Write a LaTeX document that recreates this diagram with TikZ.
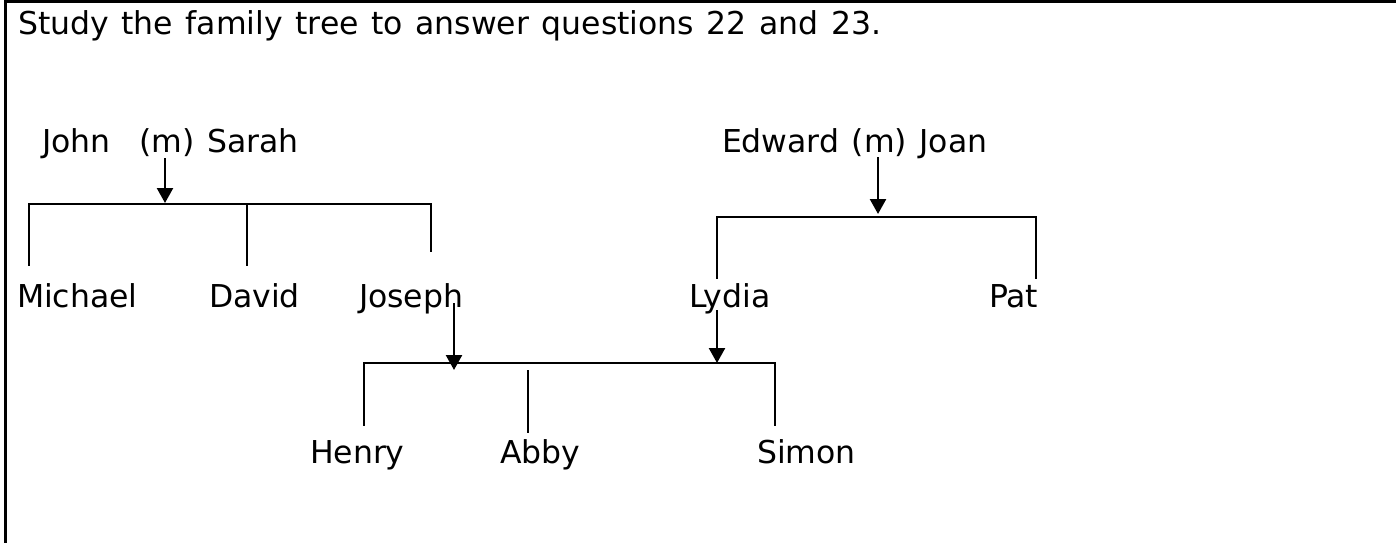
\documentclass[tikz,border=0pt]{standalone}
\usepackage{fontspec}
\setmainfont{DejaVu Sans}[WordSpace=1.25]
\usetikzlibrary{arrows.meta}
\tikzset{
  lbl/.style={anchor=base west, inner sep=0pt, outer sep=0pt, font=\fontsize{31.5}{38}\selectfont},
  bar/.style={line width=2pt, line cap=rect},
  arr/.style={line width=2.4pt, -{Triangle[length=15pt,width=16pt]}},
  frame/.style={line width=2.7pt}
}
\begin{document}
\begin{tikzpicture}[x=1pt,y=-1pt]
\useasboundingbox (0,0) rectangle (1396,543);
\fill[white] (0,0) rectangle (1396,543);
% frame
\coordinate (ftl) at (5.3,1.3);
\coordinate (ftr) at (1396,1.3);
\coordinate (fbl) at (5.3,543);
\draw[frame] (ftr) -- (ftl) -- (fbl);
% texts
\node[lbl] (title) at (18,35) {Study the family tree to answer questions 22 and 23.};
\node[lbl] (js) at (42,152) {John\ \ \kern4pt(m) Sarah};
\node[lbl] (ej) at (722,152) {Edward (m) Joan};
\node[lbl] (michael) at (17,307) {Michael};
\node[lbl] (david) at (209,307) {David};
\node[lbl] (joseph) at (359,307) {Joseph};
\node[lbl] (lydia) at (689,307) {Lydia};
\node[lbl] (pat) at (989,307) {Pat};
\node[lbl] (henry) at (310,463) {Henry};
\node[lbl] (abby) at (500,463) {Abby};
\node[lbl] (simon) at (757,463) {Simon};
% family 1
\coordinate (b1l) at (29,204);
\coordinate (b1r) at (431,204);
\coordinate (b1m) at (247,204);
\coordinate (a1s) at (165,158);
\coordinate (a1e) at (165,203);
\coordinate (d1l) at (29,265);
\coordinate (d1m) at (247,265);
\coordinate (d1r) at (431,251);
\draw[bar] (d1l) -- (b1l) -- (b1r) -- (d1r);
\draw[bar] (b1m) -- (d1m);
\draw[arr] (a1s) -- (a1e);
% family 2
\coordinate (b2l) at (717,217);
\coordinate (b2r) at (1036,217);
\coordinate (d2l) at (717,278);
\coordinate (d2r) at (1036,278);
\coordinate (a2s) at (878,157);
\coordinate (a2e) at (878,214);
\draw[bar] (d2l) -- (b2l) -- (b2r) -- (d2r);
\draw[arr] (a2s) -- (a2e);
% family 3
\coordinate (b3l) at (364,363);
\coordinate (b3r) at (775,363);
\coordinate (d3l) at (364,425);
\coordinate (d3r) at (775,425);
\coordinate (d3mt) at (528,371);
\coordinate (d3mb) at (528,432);
\draw[bar] (d3l) -- (b3l) -- (b3r) -- (d3r);
\draw[bar] (d3mt) -- (d3mb);
\coordinate (a3s) at (454,303);
\coordinate (a3e) at (454,370);
\coordinate (a4s) at (717,310);
\coordinate (a4e) at (717,363);
\draw[arr] (a3s) -- (a3e);
\draw[arr] (a4s) -- (a4e);
\end{tikzpicture}
\end{document}
